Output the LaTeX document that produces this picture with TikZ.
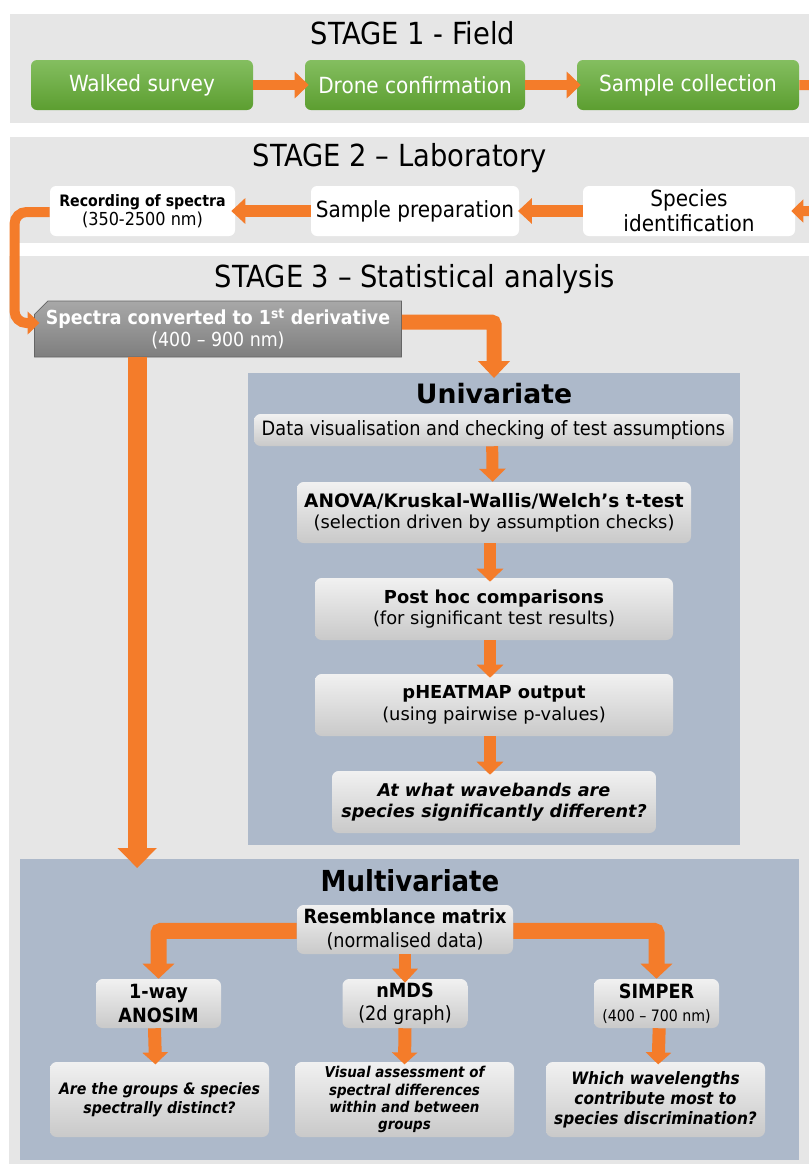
\documentclass[tikz,border=0pt]{standalone}
\usepackage{fontspec}
\setmainfont{DejaVu Sans}
\newfontfamily\cond{DejaVu Sans Condensed}
\usetikzlibrary{arrows.meta,shapes.misc,calc}
\definecolor{panel}{HTML}{E6E6E6}
\definecolor{bluebox}{HTML}{ADB9CA}
\definecolor{orng}{HTML}{F47C2A}
\definecolor{gtop}{HTML}{84BE60}
\definecolor{gbot}{HTML}{5C9E30}
\definecolor{btop}{HTML}{F1F1F1}
\definecolor{bbot}{HTML}{C9C9C9}
\definecolor{stop}{HTML}{A8A8A8}
\definecolor{sbot}{HTML}{7E7E7E}
\begin{document}
\begin{tikzpicture}[x=0.75pt,y=-0.75pt,
  greenbox/.style={rounded corners=4.5pt, top color=gtop, bottom color=gbot, text=white,
    minimum height=37.5pt, inner sep=0pt, align=center, font=\cond\fontsize{16.7}{19}\selectfont},
  whitebox/.style={rounded corners=4.5pt, fill=white, minimum height=37.5pt, inner sep=0pt,
    align=center, font=\cond\fontsize{16.7}{18.5}\selectfont},
  graybox/.style={rounded corners=5pt, top color=btop, bottom color=bbot, inner sep=0pt, align=center},
  stagetitle/.style={font=\cond\fontsize{22.8}{26}\selectfont, inner sep=0pt},
  bigtitle/.style={font=\cond\bfseries\fontsize{21.7}{25}\selectfont, inner sep=0pt},
  arr/.style n args={3}{draw=orng, line width=#1, -{Triangle[width=#2,length=#3]}},
  unitext/.style={font=\fontsize{13.4}{16}\selectfont},
  multitext/.style={font=\cond\fontsize{14.7}{17.5}\selectfont},
  qtext/.style={font=\cond\bfseries\itshape\fontsize{11.2}{12.8}\selectfont}
]
\useasboundingbox (0,0) rectangle (809,1165);
% panels
\fill[panel] (10,14) rectangle (830,123);
\fill[panel] (10,137) rectangle (830,243);
\fill[panel] (9,256) rectangle (830,1164);

% stage 1
\node[stagetitle] (t1) at (413,33) {STAGE 1 - Field};
\node[greenbox, minimum width=166.5pt] (ws) at (142,85) {Walked survey};
\node[greenbox, minimum width=165pt] (dc) at (415,85) {Drone confirmation};
\node[greenbox, minimum width=166.5pt] (sc) at (688,85) {Sample collection};

% stage 2
\node[stagetitle] (t2) at (400,158) {STAGE 2 – Laboratory};
\node[whitebox, minimum width=138.75pt, font=\cond\fontsize{13.4}{14.5}\selectfont] (rec) at (142.5,211) {{\bfseries\fontsize{11.8}{14}\selectfont Recording of spectra}\\(350-2500 nm)};
\node[whitebox, minimum width=156pt] (sp) at (415,211) {Sample preparation};
\node[whitebox, minimum width=159pt] (si) at (689,211) {Species\\identification};

% stage 3
\node[stagetitle] (t3) at (415,279) {STAGE 3 – Statistical analysis};
\node[chamfered rectangle, chamfered rectangle corners=north west, chamfered rectangle xsep=5pt, chamfered rectangle ysep=5pt,
  draw=sbot!80!black, line width=0.5pt, top color=stop, bottom color=sbot, text=white, inner sep=0pt,
  minimum width=275.25pt, minimum height=42pt, align=center, font=\cond\fontsize{14.5}{16.5}\selectfont] (spec) at (218,329)
  {\textbf{Spectra converted to 1\textsuperscript{st} derivative}\\(400 – 900 nm)};

% univariate
\node[fill=bluebox, minimum width=369pt, minimum height=354pt, inner sep=0pt] (uni) at (494,609) {};
\node[bigtitle, font=\bfseries\fontsize{20}{24}\selectfont] (ut) at (494,394) {Univariate};
\node[graybox, minimum width=359.25pt, minimum height=24pt, font=\cond\fontsize{14.8}{17}\selectfont] (dv) at (493.5,430) {Data visualisation and checking of test assumptions};
\node[graybox, unitext, minimum width=295.5pt, minimum height=45.75pt] (an) at (494,512.5) {{\bfseries\fontsize{13.9}{16}\selectfont ANOVA/Kruskal-Wallis/Welch’s t-test}\\(selection driven by assumption checks)};
\node[graybox, unitext, minimum width=268.5pt, minimum height=46.5pt] (ph) at (494,609) {\textbf{Post hoc comparisons}\\(for significant test results)};
\node[graybox, unitext, minimum width=268.5pt, minimum height=46.5pt] (hm) at (494,705) {\textbf{pHEATMAP output}\\(using pairwise p-values)};
\node[graybox, minimum width=243pt, minimum height=46.5pt, font=\bfseries\itshape\fontsize{13.2}{16}\selectfont] (aw) at (494,802) {At what wavebands are\\species significantly different?};

% multivariate
\node[fill=bluebox, minimum width=584.25pt, minimum height=225.75pt, inner sep=0pt] (multi) at (409.5,1009.5) {};
\node[bigtitle] (mt) at (410,881) {Multivariate};
\node[graybox, multitext, minimum width=162pt, minimum height=36.75pt] (rm) at (405,929.5) {\textbf{Resemblance matrix}\\(normalised data)};
\node[graybox, multitext, minimum width=93.75pt, minimum height=36.75pt] (ano) at (158.5,1003.5) {\textbf{1-way}\\\textbf{ANOSIM}};
\node[graybox, multitext, minimum width=93.75pt, minimum height=36.75pt] (nm) at (405,1003.5) {\textbf{nMDS}\\(2d graph)};
\node[graybox, multitext, minimum width=93.75pt, minimum height=36.75pt] (sim) at (656.5,1003.5) {\textbf{SIMPER}\\{\fontsize{11.8}{13}\selectfont(400 – 700 nm)}};
\node[graybox, qtext, minimum width=164.25pt, minimum height=56.25pt, font=\cond\bfseries\itshape\fontsize{11.8}{14}\selectfont] (q1) at (159.5,1099.5) {Are the groups \& species\\spectrally distinct?};
\node[graybox, qtext, minimum width=164.25pt, minimum height=56.25pt] (q2) at (404.5,1099.5) {Visual assessment of\\spectral differences\\within and between\\groups};
\node[graybox, qtext, minimum width=164.25pt, minimum height=56.25pt, font=\cond\bfseries\itshape\fontsize{12.8}{15}\selectfont] (q3) at (655.5,1099.5) {Which wavelengths\\contribute most to\\species discrimination?};

% connectors
\draw[arr={7.5pt}{19.5pt}{10.5pt}] (ws.east) -- ([xshift=3pt]dc.west);
\draw[arr={7.5pt}{19.5pt}{10.5pt}] (dc.east) -- ([xshift=3pt]sc.west);
\draw[arr={7.5pt}{17pt}{9pt}, rounded corners=9pt] (sc.east) -- ++(22,0) |- ([xshift=-3pt]si.east);
\draw[arr={9pt}{18.75pt}{10.5pt}] (si.west) -- ([xshift=-1pt]sp.east);
\draw[arr={9pt}{18.75pt}{10.5pt}] (sp.west) -- ([xshift=-3pt]rec.east);
\coordinate (lc) at (14.5,323);
\draw[arr={7.5pt}{17pt}{9pt}, rounded corners=9pt] ([yshift=-0.75pt]rec.west) -| (lc) -- ([xshift=4pt]lc -| spec.west);
\draw[arr={11.25pt}{23.25pt}{12.75pt}, rounded corners=2pt] ([yshift=5.25pt]spec.east) -| ([yshift=-4pt]uni.north);
\coordinate (s3) at ([xshift=77.25pt]spec.south west);
\draw[arr={14.25pt}{28.5pt}{15pt}] (s3) -- ([yshift=-7pt]s3 |- multi.north);
\draw[arr={9pt}{19.5pt}{9.75pt}] ([xshift=-1pt]dv.south) -- ([xshift=-1pt]an.north);
\draw[arr={9pt}{19.5pt}{9.75pt}] ([xshift=-3pt]an.south) -- ([xshift=-3pt,yshift=-3pt]ph.north);
\draw[arr={9pt}{19.5pt}{9.75pt}] ([xshift=-3pt]ph.south) -- ([xshift=-3pt,yshift=-3pt]hm.north);
\draw[arr={9pt}{19.5pt}{9.75pt}] ([xshift=-3pt]hm.south) -- ([xshift=-3pt,yshift=-3pt]aw.north);
\draw[arr={12pt}{23.25pt}{11.25pt}, rounded corners=2pt] ([yshift=-1pt]rm.west) -| (ano.north);
\draw[arr={12pt}{23.25pt}{11.25pt}, rounded corners=2pt] ([yshift=-1pt]rm.east) -| (sim.north);
\draw[arr={9pt}{18.75pt}{10.5pt}] (rm.south) -- ([yshift=-3pt]nm.north);
\draw[arr={9.75pt}{18.75pt}{9pt}] ([xshift=-3pt]ano.south) -- ([xshift=-3pt,yshift=-2pt]q1.north);
\draw[arr={9.75pt}{18.75pt}{9pt}] (nm.south) -- ([yshift=-2pt]q2.north);
\draw[arr={9.75pt}{18.75pt}{9pt}] ([xshift=2pt]sim.south) -- ([xshift=2pt,yshift=-2pt]q3.north);
\end{tikzpicture}
\end{document}
